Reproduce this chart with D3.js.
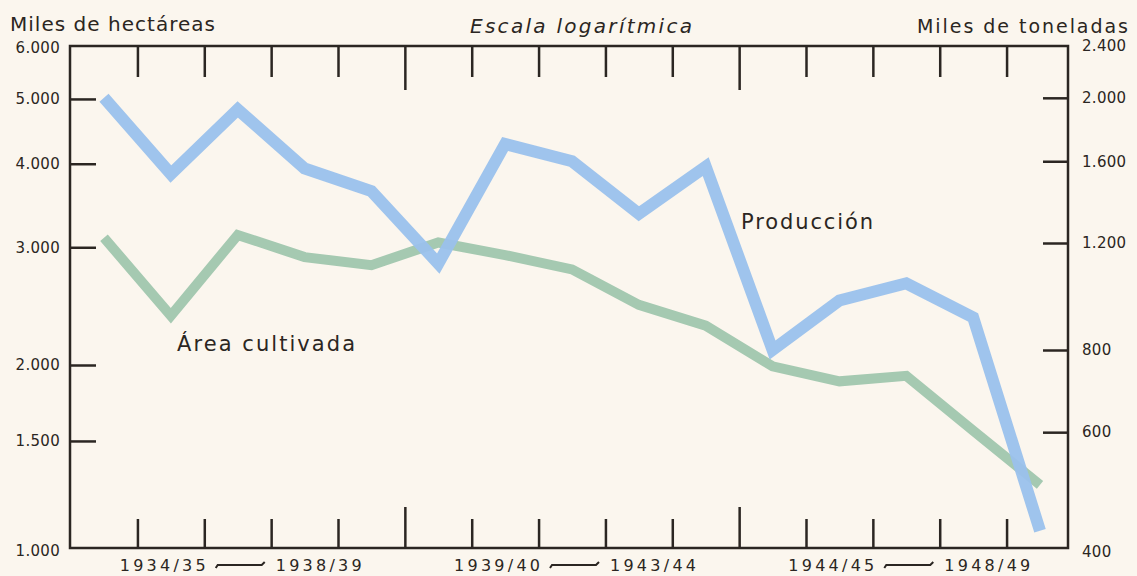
<!DOCTYPE html>
<html>
<head>
<meta charset="utf-8">
<script src="https://cdn.jsdelivr.net/npm/d3@7"></script>
<style>
body { margin: 0; background: #fbf6ee; }
text { font-family: "DejaVu Sans", sans-serif; fill: #2b2622; }
</style>
</head>
<body>
<div id="chart"></div>
<script>

// campañas agrícolas
var periods = ["1934/35", "1935/36", "1936/37", "1937/38", "1938/39",
               "1939/40", "1940/41", "1941/42", "1942/43", "1943/44",
               "1944/45", "1945/46", "1946/47", "1947/48", "1948/49"];

// miles de hectareas (eje izquierdo)
var area = [3100, 2370, 3130, 2900, 2820, 3050, 2920, 2780, 2460, 2290, 1990, 1880, 1920, 1560, 1270];

// miles de toneladas (eje derecho)
var produccion = [2000, 1530, 1920, 1560, 1440, 1110, 1700, 1600, 1330, 1570, 800, 965, 1030, 905, 425];

var leftTicks = [1000, 1500, 2000, 3000, 4000, 5000, 6000];
var rightTicks = [400, 600, 800, 1200, 1600, 2000, 2400];

// first and last campaign of each labelled group
var groupStarts = [0, 5, 10];
var groupEnds = [4, 9, 14];

var width = 1137, height = 576;
var plotL = 70, plotR = 1068, plotT = 46, plotB = 548;

var svg = d3.select("#chart")
    .append("svg")
    .attr("width", width)
    .attr("height", height)
    .style("background", "#fbf6ee");

var x = d3.scaleLinear()
    .domain([0, periods.length - 1])
    .range([104, 1040]);

// hand drawn log scales, a bit uneven
var yLeft = d3.scaleLog()
    .domain([1000, 2000, 6000])
    .range([plotB, 365, plotT]);

var yRight = d3.scaleLog()
    .domain([400, 800, 1200, 2400])
    .range([plotB, 350, 243, plotT]);

var fmt = function(d) { return d3.format(",")(d).replace(",", "."); };

// lines first so the frame sits on top
var lineArea = d3.line()
    .x(function(d, i) { return x(i); })
    .y(function(d) { return yLeft(d); });

var lineProd = d3.line()
    .x(function(d, i) { return x(i); })
    .y(function(d) { return yRight(d); });

svg.append("path")
    .datum(area)
    .attr("d", lineArea)
    .style("fill", "none")
    .style("stroke", "#a5c9b1")
    .style("stroke-width", 10)
    .style("stroke-linejoin", "miter");

svg.append("path")
    .datum(produccion)
    .attr("d", lineProd)
    .style("fill", "none")
    .style("stroke", "#9ac1ec")
    .style("stroke-width", 12)
    .style("stroke-opacity", 0.95)
    .style("stroke-linejoin", "miter");

// frame
svg.append("rect")
    .attr("x", plotL)
    .attr("y", plotT)
    .attr("width", plotR - plotL)
    .attr("height", plotB - plotT)
    .style("fill", "none")
    .style("stroke", "#2b2622")
    .style("stroke-width", 2.5);

// y axes
var axL = svg.append("g")
    .attr("transform", "translate(" + plotL + ",0)")
    .call(d3.axisLeft(yLeft).tickValues(leftTicks).tickFormat(fmt).tickSize(-26).tickPadding(10));

var axR = svg.append("g")
    .attr("transform", "translate(" + plotR + ",0)")
    .call(d3.axisRight(yRight).tickValues(rightTicks).tickFormat(fmt).tickSize(-25).tickPadding(14));

[axL, axR].forEach(function(ax) {
    ax.select(".domain").remove();
    ax.selectAll(".tick line").style("stroke", "#2b2622").style("stroke-width", 2.5);
    ax.selectAll(".tick text")
        .style("font-family", "DejaVu Sans, sans-serif")
        .style("font-size", "15px")
        .style("letter-spacing", "0.3px")
        .style("fill", "#2b2622");
});
// end ticks: labels only, the frame is the tick
axL.selectAll(".tick").filter(function(d) { return d == 6000 || d == 1000; }).select("line").remove();
axR.selectAll(".tick").filter(function(d) { return d == 2400 || d == 400; }).select("line").remove();
axL.selectAll(".tick").filter(function(d) { return d == 6000; }).select("text").attr("dy", "0.45em");
axL.selectAll(".tick").filter(function(d) { return d == 1000; }).select("text").attr("dy", "0.5em");
axR.selectAll(".tick").filter(function(d) { return d == 400; }).select("text").attr("dy", "0.55em");

// x ticks between campaigns, longer ones between groups
var bounds = d3.range(periods.length - 1).map(function(i) { return i + 0.5; });
var isLong = function(d) { return groupEnds.indexOf(d - 0.5) >= 0 && d < periods.length - 1.5; };

var axB = svg.append("g")
    .attr("transform", "translate(0," + plotB + ")")
    .call(d3.axisBottom(x).tickValues(bounds).tickFormat("").tickSize(-29));

var axT = svg.append("g")
    .attr("transform", "translate(0," + plotT + ")")
    .call(d3.axisTop(x).tickValues(bounds).tickFormat("").tickSize(-31));

axB.selectAll(".tick line").filter(isLong).attr("y2", -41);
axT.selectAll(".tick line").filter(isLong).attr("y2", 44);

[axB, axT].forEach(function(ax) {
    ax.select(".domain").remove();
    ax.selectAll(".tick line").style("stroke", "#2b2622").style("stroke-width", 2.5);
});

// campaign group labels
var groups = svg.append("g")
    .selectAll("g")
    .data(groupStarts)
    .enter()
    .append("g")
    .attr("transform", function(d, i) {
        return "translate(" + ((x(d) + x(groupEnds[i])) / 2 + 3) + ",571)";
    });

groups.append("text")
    .attr("x", -121)
    .attr("textLength", 86)
    .attr("lengthAdjust", "spacing")
    .style("font-size", "16px")
    .text(function(d) { return periods[d]; });

groups.append("text")
    .attr("x", 35)
    .attr("textLength", 86)
    .attr("lengthAdjust", "spacing")
    .style("font-size", "16px")
    .text(function(d, i) { return periods[groupEnds[i]]; });

groups.append("path")
    .attr("d", "M-25,-3 L-23,-6 L21,-6 L24,-9")
    .style("fill", "none")
    .style("stroke", "#2b2622")
    .style("stroke-width", 2);

// titles
svg.append("text")
    .attr("x", 10).attr("y", 31)
    .attr("textLength", 205).attr("lengthAdjust", "spacing")
    .style("font-size", "20px")
    .text("Miles de hectáreas");

svg.append("text")
    .attr("x", 470).attr("y", 33)
    .attr("textLength", 222).attr("lengthAdjust", "spacing")
    .style("font-size", "20px")
    .style("font-style", "italic")
    .text("Escala logarítmica");

svg.append("text")
    .attr("x", 917).attr("y", 33)
    .attr("textLength", 211).attr("lengthAdjust", "spacing")
    .style("font-size", "19px")
    .text("Miles de toneladas");

// series labels
svg.append("text")
    .attr("x", 741).attr("y", 229)
    .attr("textLength", 132).attr("lengthAdjust", "spacing")
    .style("font-size", "21px")
    .text("Producción");

svg.append("text")
    .attr("x", 177).attr("y", 351)
    .attr("textLength", 178).attr("lengthAdjust", "spacing")
    .style("font-size", "21px")
    .text("Área cultivada");

</script>
</body>
</html>
